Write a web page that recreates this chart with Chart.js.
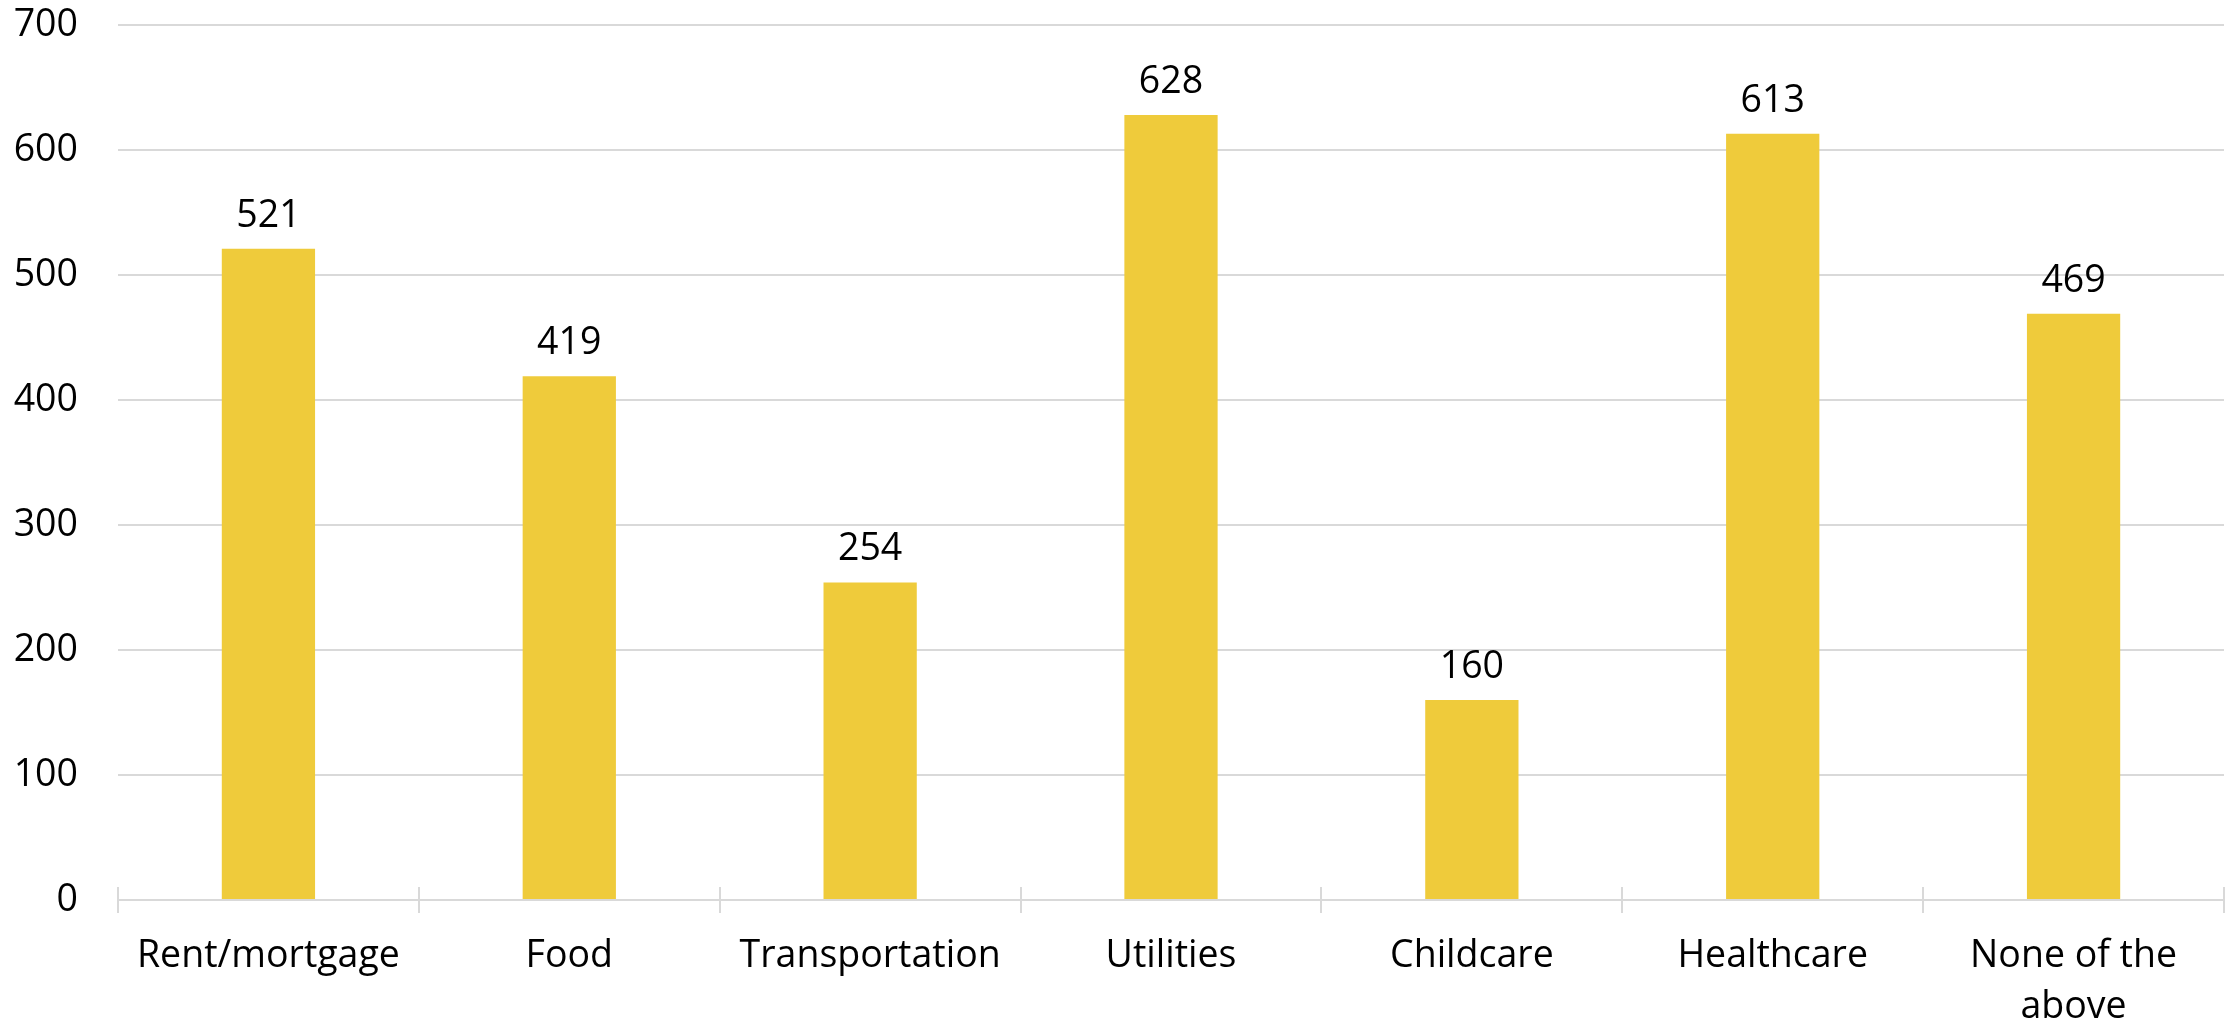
<!DOCTYPE html>
<html>
<head>
<meta charset="utf-8">
<script src="https://cdn.jsdelivr.net/npm/chart.js@4.4.1/dist/chart.umd.min.js"></script>
<style>
  html, body { margin: 0; padding: 0; background: #fff; }
  #wrap { width: 2234px; height: 1025px; position: relative; }
</style>
</head>
<body>
<div id="wrap"><canvas id="chart"></canvas></div>
<script>
(function () {
  "use strict";

  const categories = ["Rent/mortgage", "Food", "Transportation", "Utilities", "Childcare", "Healthcare", ["None of the", "above"]];
  const counts = [521, 419, 254, 628, 160, 613, 469];
  const yTicks = [0, 100, 200, 300, 400, 500, 600, 700];

  const FONT = "'Open Sans', 'Noto Sans', sans-serif";
  const BAR = "#efcb3b";
  const GRID = "#d9d9d9";

  // value labels above each bar
  const valueLabels = {
    id: "valueLabels",
    afterDatasetsDraw: function (chart) {
      const ctx = chart.ctx;
      const meta = chart.getDatasetMeta(0);
      ctx.save();
      ctx.font = "37.5px " + FONT;
      ctx.fillStyle = "#000";
      ctx.textAlign = "center";
      ctx.textBaseline = "bottom";
      meta.data.forEach(function (bar, i) {
        ctx.fillText(String(counts[i]), bar.x, bar.y - 14);
      });
      ctx.restore();
    }
  };

  // small upper half of the crossing tick marks on the category axis
  const crossTicks = {
    id: "crossTicks",
    afterDraw: function (chart) {
      const x = chart.scales.x;
      const ctx = chart.ctx;
      const half = (x.getPixelForValue(1) - x.getPixelForValue(0)) / 2;
      ctx.save();
      ctx.strokeStyle = GRID;
      ctx.lineWidth = 2;
      for (let i = 0; i <= categories.length; i++) {
        const px = Math.round(x.getPixelForValue(i) - half);
        ctx.beginPath();
        ctx.moveTo(px, x.top - 13);
        ctx.lineTo(px, x.top);
        ctx.stroke();
      }
      ctx.restore();
    }
  };

  new Chart(document.getElementById("chart"), {
    type: "bar",
    data: {
      labels: categories,
      datasets: [{
        data: counts,
        backgroundColor: BAR,
        borderWidth: 0,
        categoryPercentage: 1,
        barPercentage: 0.31
      }]
    },
    options: {
      responsive: true,
      maintainAspectRatio: false,
      animation: false,
      layout: { padding: { top: 25, right: 10, left: 0, bottom: 0 } },
      plugins: {
        legend: { display: false },
        tooltip: { enabled: false }
      },
      scales: {
        x: {
          grid: { display: true, drawOnChartArea: false, color: GRID, lineWidth: 2, tickLength: 13, offset: true },
          border: { display: true, color: GRID, width: 2 },
          ticks: { color: "#000", font: { family: FONT, size: 37.5, lineHeight: 1.35 }, padding: 18, maxRotation: 0, autoSkip: false },
          afterFit: function (s) { s.height = 125; }
        },
        y: {
          min: 0,
          max: 700,
          afterBuildTicks: function (s) { s.ticks = yTicks.map(function (v) { return { value: v }; }); },
          grid: { color: GRID, lineWidth: 2, drawTicks: false },
          border: { display: false },
          ticks: { color: "#000", font: { family: FONT, size: 37.5 }, padding: 40 },
          afterFit: function (s) {
            s.width = 118;
            // tick padding is horizontal here; don't let it push the plot down
            s.paddingTop = 0;
            s.paddingBottom = 0;
          }
        }
      }
    },
    plugins: [valueLabels, crossTicks]
  });
})();
</script>
</body>
</html>
